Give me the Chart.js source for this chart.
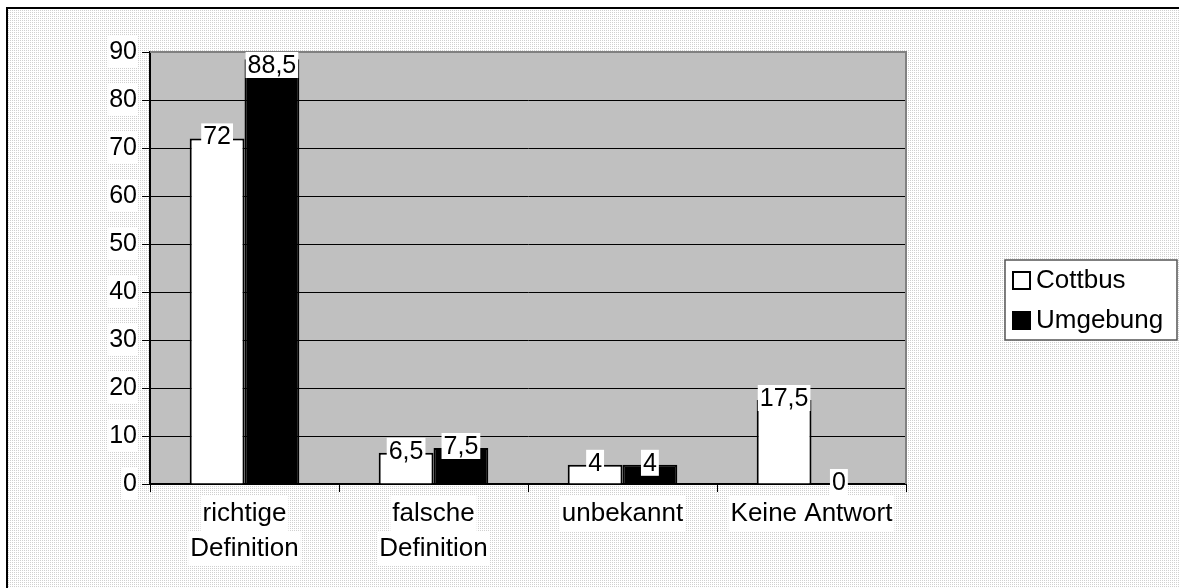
<!DOCTYPE html>
<html>
<head>
<meta charset="utf-8">
<script src="https://cdn.jsdelivr.net/npm/chart.js@4/dist/chart.umd.min.js"></script>
<style>
  html, body { margin: 0; padding: 0; background: #fff; }
  #wrap { width: 1179px; height: 588px; }
</style>
</head>
<body>
<div id="wrap"><canvas id="bars"></canvas></div>
<script>
var categories = [["richtige", "Definition"], ["falsche", "Definition"], ["unbekannt"], ["Keine Antwort"]];
var cottbusValues = [72, 6.5, 4, 17.5];
var umgebungValues = [88.5, 7.5, 4, 0];
var seriesNames = ["Cottbus", "Umgebung"];
var yTicks = [0, 10, 20, 30, 40, 50, 60, 70, 80, 90];

var FONT = "'Liberation Sans', Arial, sans-serif";
var X_PAD = 4;
var X_LINE = 35;

function fmt(v) {
	return String(v).replace(".", ",");
}

// dotted excel-style background, plot fill and outer frame
var backdrop = {
	id: "backdrop",
	beforeDraw: function(chart) {
		var ctx = chart.ctx;
		var pc = document.createElement("canvas");
		pc.width = 2; pc.height = 2;
		var p = pc.getContext("2d");
		p.fillStyle = "#ffffff"; p.fillRect(0, 0, 2, 2);
		p.fillStyle = "#d0d0d0"; p.fillRect(0, 0, 1, 1);
		ctx.save();
		ctx.fillStyle = "#ffffff";
		ctx.fillRect(0, 0, chart.width, chart.height);
		ctx.fillStyle = ctx.createPattern(pc, "repeat");
		ctx.fillRect(8, 9, chart.width - 8, chart.height - 9);
		var a = chart.chartArea;
		ctx.fillStyle = "#c0c0c0";
		ctx.fillRect(a.left, a.top, a.right - a.left, a.bottom - a.top);
		ctx.strokeStyle = "#000";
		ctx.lineWidth = 2;
		ctx.beginPath();
		ctx.moveTo(7, chart.height);
		ctx.lineTo(7, 8);
		ctx.lineTo(chart.width, 8);
		ctx.stroke();
		// white boxes behind each line of the category labels
		var xs = chart.scales.x;
		ctx.font = "26px " + FONT;
		ctx.fillStyle = "#fff";
		chart.data.labels.forEach(function(lab, i) {
			var cx = xs.getPixelForTick(i);
			lab.forEach(function(line, k) {
				var w = ctx.measureText(line).width + 4;
				var top = xs.top + 8 + X_PAD + k * X_LINE;
				ctx.fillRect(cx - w / 2, top, w, X_LINE);
			});
		});
		ctx.restore();
	},
	afterDatasetsDraw: function(chart) {
		var ctx = chart.ctx;
		var a = chart.chartArea;
		ctx.save();
		// gray plot frame top / right
		ctx.strokeStyle = "#808080";
		ctx.lineWidth = 2;
		ctx.beginPath();
		ctx.moveTo(a.left, a.top);
		ctx.lineTo(a.right, a.top);
		ctx.lineTo(a.right, a.bottom);
		ctx.stroke();
		// value labels
		ctx.font = "25px " + FONT;
		ctx.textAlign = "center";
		ctx.textBaseline = "middle";
		chart.data.datasets.forEach(function(ds, i) {
			var meta = chart.getDatasetMeta(i);
			meta.data.forEach(function(bar, j) {
				var txt = fmt(ds.data[j]);
				var w = ctx.measureText(txt).width + 4;
				var h = 26;
				var cy = bar.y - 2;
				if (cy - h / 2 < a.top) cy = a.top + h / 2;
				ctx.fillStyle = "#fff";
				ctx.fillRect(bar.x - w / 2, cy - h / 2, w, h);
				ctx.fillStyle = "#000";
				ctx.fillText(txt, bar.x, cy + 1);
			});
		});
		ctx.restore();
	},
	afterDraw: function(chart) {
		// legend box
		var ctx = chart.ctx;
		ctx.save();
		ctx.fillStyle = "#fff";
		ctx.fillRect(1005, 260, 172, 80);
		ctx.strokeStyle = "#555";
		ctx.lineWidth = 1.5;
		ctx.strokeRect(1005, 260, 172, 80);
		ctx.font = "26px " + FONT;
		ctx.textBaseline = "middle";
		ctx.textAlign = "left";
		chart.data.datasets.forEach(function(ds, i) {
			var cy = 280 + i * 40;
			ctx.fillStyle = ds.backgroundColor;
			ctx.fillRect(1013, cy - 8, 17, 17);
			ctx.strokeStyle = "#000";
			ctx.lineWidth = 2;
			ctx.strokeRect(1013, cy - 8, 17, 17);
			ctx.fillStyle = "#000";
			ctx.fillText(ds.label, 1036, cy + 1);
		});
		ctx.restore();
	}
};

new Chart(document.getElementById("bars"), {
	type: "bar",
	data: {
		labels: categories,
		datasets: [{
			label: seriesNames[0],
			data: cottbusValues,
			backgroundColor: "#ffffff",
			borderColor: "#000000",
			borderWidth: 2,
			categoryPercentage: 0.58,
			barPercentage: 1
		}, {
			label: seriesNames[1],
			data: umgebungValues,
			backgroundColor: "#000000",
			borderColor: "#000000",
			borderWidth: 2,
			categoryPercentage: 0.58,
			barPercentage: 1
		}]
	},
	options: {
		responsive: true,
		maintainAspectRatio: false,
		animation: false,
		layout: {padding: {left: 0, top: 52, right: 273, bottom: 0}},
		plugins: {
			legend: {display: false},
			tooltip: {enabled: false}
		},
		scales: {
			x: {
				afterFit: function(s) { s.height = 104; },
				grid: {
					offset: true,
					drawOnChartArea: false,
					color: "#000",
					tickLength: 8
				},
				border: {color: "#000", width: 2},
				ticks: {
					color: "#000",
					font: {family: FONT, size: 26, lineHeight: X_LINE / 26},
					padding: X_PAD,
					maxRotation: 0,
					autoSkip: false
				}
			},
			y: {
				min: yTicks[0],
				max: yTicks[yTicks.length - 1],
				afterFit: function(s) { s.width = 150; },
				afterBuildTicks: function(s) {
					s.ticks = yTicks.map(function(v) { return {value: v}; });
				},
				grid: {
					color: "#000",
					lineWidth: 1,
					tickLength: 8
				},
				border: {color: "#000", width: 2},
				ticks: {
					color: "#000",
					font: {family: FONT, size: 25},
					padding: 5,
					showLabelBackdrop: true,
					backdropColor: "#fff",
					backdropPadding: 1
				}
			}
		}
	},
	plugins: [backdrop]
});
</script>
</body>
</html>
